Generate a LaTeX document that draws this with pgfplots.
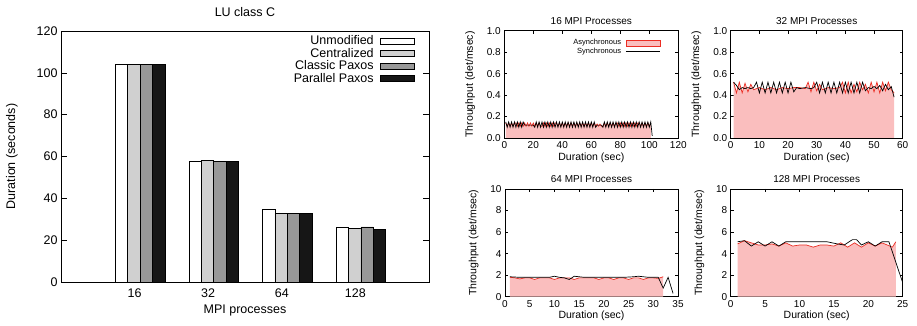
\documentclass[border=0pt]{standalone}
\usepackage{fontspec}
\setmainfont{Liberation Sans}
\usepackage{pgfplots}
\usepackage{pgfplotstable}
\pgfplotsset{compat=1.18}

\definecolor{lgray}{RGB}{208,208,208}
\definecolor{mgray}{RGB}{152,152,152}
\definecolor{dgray}{RGB}{22,22,22}
\definecolor{pinkfill}{RGB}{250,190,190}
\definecolor{redline}{RGB}{235,45,35}

% ---------- bar chart data ----------
\pgfplotstableread{
x unmod central classic parallel
1 103.9 103.9 104.2 104.2
2 57.7 58.0 57.5 57.8
3 34.9 32.8 32.8 32.8
4 26.0 25.6 26.3 25.2
}\lutable

% ---------- 16 MPI ----------
\pgfplotstableread{
x y
1 .15
2 .10
3 .15
4 .10
5 .15
6 .10
7 .15
8 .10
9 .15
10 .10
11 .15
12 .10
13 .15
14 .12
20 .12
21 .10
22 .15
23 .10
24 .15
25 .10
26 .15
27 .10
28 .15
29 .10
30 .15
31 .10
32 .15
33 .10
34 .15
35 .10
36 .15
37 .10
38 .15
39 .10
40 .15
41 .10
42 .15
43 .10
44 .15
45 .10
46 .15
47 .10
48 .15
49 .10
50 .15
51 .10
52 .15
53 .10
54 .15
55 .10
56 .15
57 .10
58 .15
59 .10
60 .15
61 .10
62 .15
63 .10
64 .12
67 .12
68 .10
69 .15
70 .10
71 .15
72 .10
73 .15
74 .10
75 .15
76 .10
77 .15
78 .10
79 .15
80 .10
81 .15
82 .10
83 .15
84 .10
85 .15
86 .10
87 .15
88 .10
89 .15
90 .10
91 .15
92 .10
93 .15
94 .10
95 .15
96 .10
97 .15
98 .10
99 .15
100 .10
101 .15
102 .02
}\syncA

\pgfplotstableread{
x y
1 .14
2 .11
3 .14
4 .11
5 .14
6 .11
7 .14
8 .14
9 .11
10 .14
11 .11
12 .14
13 .11
14 .14
15 .11
16 .14
17 .11
18 .14
19 .11
20 .14
21 .11
22 .14
23 .11
24 .14
25 .11
26 .11
27 .14
28 .11
29 .14
30 .11
31 .14
32 .11
33 .14
34 .11
35 .14
36 .14
37 .11
38 .14
39 .11
40 .14
41 .11
42 .14
43 .11
44 .14
45 .11
46 .14
47 .11
48 .14
49 .11
50 .14
51 .11
52 .14
53 .11
54 .14
55 .11
56 .14
57 .11
58 .14
59 .11
60 .14
61 .11
62 .14
63 .11
64 .13
65 .11
66 .13
67 .11
68 .11
69 .14
70 .11
71 .14
72 .11
73 .14
74 .11
75 .14
76 .11
77 .14
78 .14
79 .11
80 .14
81 .11
82 .14
83 .11
84 .14
85 .11
86 .14
87 .11
88 .14
89 .11
90 .14
91 .11
92 .14
93 .14
94 .11
95 .14
96 .11
97 .14
98 .11
99 .14
100 .11
101 .14
}\asyncA

% ---------- 32 MPI ----------
\pgfplotstableread{
x y
1 .52
2 .49
3 .45
4 .47
5 .46
6 .47
7 .46
8 .47
9 .52
10 .42
11 .52
12 .42
13 .52
14 .42
15 .52
16 .42
17 .52
18 .42
19 .52
20 .42
21 .52
22 .43
23 .47
24 .46
26 .47
28 .46
29 .47
30 .52
31 .42
32 .52
33 .42
34 .52
35 .42
36 .52
37 .42
38 .52
39 .42
40 .52
41 .42
42 .52
43 .42
44 .52
45 .42
46 .52
47 .44
48 .47
49 .46
50 .48
51 .46
52 .49
53 .44
54 .50
55 .45
56 .48
57 .38
}\syncB

\pgfplotstableread{
x y
1 .52
2 .42
3 .52
4 .42
5 .51
6 .43
7 .50
8 .45
10 .47
12 .45
14 .47
16 .45
18 .47
20 .46
22 .47
24 .47
26 .46
27 .52
28 .43
29 .52
30 .44
31 .50
32 .45
34 .47
36 .46
38 .47
39 .52
40 .42
41 .52
42 .42
43 .50
44 .43
45 .52
46 .45
47 .50
48 .42
49 .52
50 .43
51 .52
52 .42
53 .52
54 .44
55 .52
56 .45
57 .42
}\asyncB

% ---------- 64 MPI ----------
\pgfplotstableread{
x y
1 1.85
3 1.8
5 1.8
7 1.8
9 1.8
10 1.9
11 1.8
12 1.75
13 1.6
14 1.9
15 1.85
16 1.8
18 1.8
20 1.8
22 1.8
24 1.8
26 1.85
27 1.9
28 1.85
29 1.8
31 1.8
32 0.8
33 1.8
34 0.3
}\syncC

\pgfplotstableread{
x y
1 1.8
2 1.75
3 1.65
4 1.75
5 1.75
6 1.6
7 1.75
8 1.75
9 1.75
10 1.6
11 1.75
12 1.75
13 1.75
14 1.6
15 1.75
16 1.75
17 1.75
18 1.75
19 1.6
20 1.75
21 1.75
22 1.6
23 1.75
24 1.75
25 1.6
26 1.75
27 1.75
28 1.6
29 1.75
30 1.75
31 1.7
32 1.85
}\asyncC

% ---------- 128 MPI ----------
\pgfplotstableread{
x y
1 5.1
2 5.2
3 4.7
4 5.1
5 4.7
6 5.1
7 4.7
8 5.1
14 5.1
15.5 4.9
16.5 4.8
17.7 5.3
18.3 5.3
19 4.8
20 5.1
21 4.7
22 5.1
23 5.1
25 1.3
}\syncD

\pgfplotstableread{
x y
1 4.9
2 5.2
3 5.0
4 4.8
5 4.8
6 4.9
7 4.7
8 5.0
9 4.7
10 4.8
11 4.8
12 4.6
13 4.8
14 4.8
15 4.7
16 5.0
17 4.6
18 5.0
19 4.6
20 5.0
21 4.7
22 5.0
23.5 4.6
24 5.1
}\asyncD

\pgfplotsset{
  panel/.style={
    scale only axis, anchor=south west,
    font=\fontsize{10}{11}\selectfont,
    tick align=inside, major tick length=3pt,
    tick style={black, line width=0.5pt},
    axis line style={line width=0.6pt},
    title style={font=\fontsize{10}{11}\selectfont, yshift=-3pt},
    label style={font=\fontsize{10.5}{11}\selectfont},
    xlabel={Duration (sec)}, ylabel={Throughput (det/msec)},
    xlabel style={yshift=3pt},
    ylabel style={yshift=5pt},
    /pgf/number format/assume math mode=true,
    ymin=0,
  },
  asyncstyle/.style={redline, line width=0.7pt,
    legend image code/.code={\draw[fill=pinkfill, draw=redline, line width=0.6pt] (0pt,-3pt) rectangle (34pt,3pt);}},
  syncstyle/.style={black, line width=0.7pt,
    legend image code/.code={\draw[black, line width=0.6pt] (0pt,0pt) -- (34pt,0pt);}},
  barleg/.style={legend image code/.code={\draw[draw=black, line width=0.6pt, fill=#1] (0pt,-3pt) rectangle (34pt,3pt);}},
}

\begin{document}
\begin{tikzpicture}
\useasboundingbox (0,0) rectangle (917pt,326pt);

% ================= Bar chart =================
\begin{axis}[
  at={(61pt,44pt)}, anchor=south west, scale only axis,
  width=368pt, height=251pt,
  xmin=0, xmax=5, ymin=0, ymax=120,
  xtick={1,2,3,4}, xticklabels={16,32,64,128},
  ytick={0,20,...,120},
  xtick style={draw=none},
  tick align=inside, major tick length=6pt,
  tick style={black, line width=0.5pt},
  axis line style={line width=0.7pt},
  font=\fontsize{12.5}{14}\selectfont,
  title={LU class C},
  title style={yshift=5pt},
  xlabel={MPI processes}, ylabel={Duration (seconds)},
  xlabel style={yshift=-1pt},
  xticklabel style={yshift=-3pt},
  ylabel style={yshift=12pt},
  /pgf/number format/assume math mode=true,
  legend cell align=right, legend plot pos=right,
  legend style={at={(1,1)}, anchor=north east, xshift=-11pt, yshift=-1pt,
    draw=none, fill=none, row sep=-1pt, column sep=5pt,
    font=\fontsize{12.5}{13}\selectfont,
    nodes={inner sep=1.5pt}},
]
\addplot[ybar, bar width=12.4pt, bar shift=-13.1pt, fill=white, draw=black, line width=0.6pt, barleg=white] table[x=x, y=unmod] {\lutable};
\addlegendentry{Unmodified}
\addplot[ybar, bar width=12.4pt, bar shift=-0.7pt, fill=lgray, draw=black, line width=0.6pt, barleg=lgray] table[x=x, y=central] {\lutable};
\addlegendentry{Centralized}
\addplot[ybar, bar width=12.4pt, bar shift=11.7pt, fill=mgray, draw=black, line width=0.6pt, barleg=mgray] table[x=x, y=classic] {\lutable};
\addlegendentry{Classic Paxos}
\addplot[ybar, bar width=12.4pt, bar shift=24.1pt, fill=dgray, draw=black, line width=0.6pt, barleg=dgray] table[x=x, y=parallel] {\lutable};
\addlegendentry{Parallel Paxos}
\end{axis}

% ================= 16 MPI =================
\begin{axis}[panel,
  at={(504.3pt,188pt)}, width=174pt, height=107.3pt,
  xmin=0, xmax=120, ymax=1, xtick={0,20,...,120}, ytick={0,0.2,...,1.0},
  yticklabel style={/pgf/number format/.cd, fixed, fixed zerofill, precision=1},
  title={16 MPI Processes},
  legend cell align=right, legend plot pos=right,
  legend style={at={(1,1)}, anchor=north east, xshift=-15pt, yshift=-5pt,
    draw=none, fill=none, row sep=-1pt, column sep=3pt,
    font=\fontsize{7.5}{8}\selectfont, nodes={inner sep=1.5pt}},
]
\addplot[fill=pinkfill, draw=none, forget plot] table {\asyncA} \closedcycle;
\addplot[asyncstyle] table {\asyncA};
\addlegendentry{Asynchronous}
\addplot[syncstyle] table {\syncA};
\addlegendentry{Synchronous}
\end{axis}

% ================= 32 MPI =================
\begin{axis}[panel,
  at={(730.7pt,188pt)}, width=172pt, height=107.3pt,
  xmin=0, xmax=60, ymax=1, xtick={0,10,...,60}, ytick={0,0.2,...,1.0},
  yticklabel style={/pgf/number format/.cd, fixed, fixed zerofill, precision=1},
  title={32 MPI Processes},
]
\addplot[fill=pinkfill, draw=none] table {\asyncB} \closedcycle;
\addplot[asyncstyle] table {\asyncB};
\addplot[syncstyle] table {\syncB};
\end{axis}

% ================= 64 MPI =================
\begin{axis}[panel,
  at={(505pt,29.3pt)}, width=173pt, height=107.7pt,
  xmin=0, xmax=35, ymax=10, xtick={0,5,...,35}, ytick={0,2,...,10},
  title={64 MPI Processes},
]
\addplot[fill=pinkfill, draw=none] table {\asyncC} \closedcycle;
\addplot[asyncstyle] table {\asyncC};
\addplot[syncstyle] table {\syncC};
\end{axis}

% ================= 128 MPI =================
\begin{axis}[panel,
  at={(730.7pt,29.3pt)}, width=172pt, height=107.7pt,
  xmin=0, xmax=25, ymax=10, xtick={0,5,...,25}, ytick={0,2,...,10},
  title={128 MPI Processes},
]
\addplot[fill=pinkfill, draw=none] table {\asyncD} \closedcycle;
\addplot[asyncstyle] table {\asyncD};
\addplot[syncstyle] table {\syncD};
\end{axis}
\end{tikzpicture}
\end{document}
